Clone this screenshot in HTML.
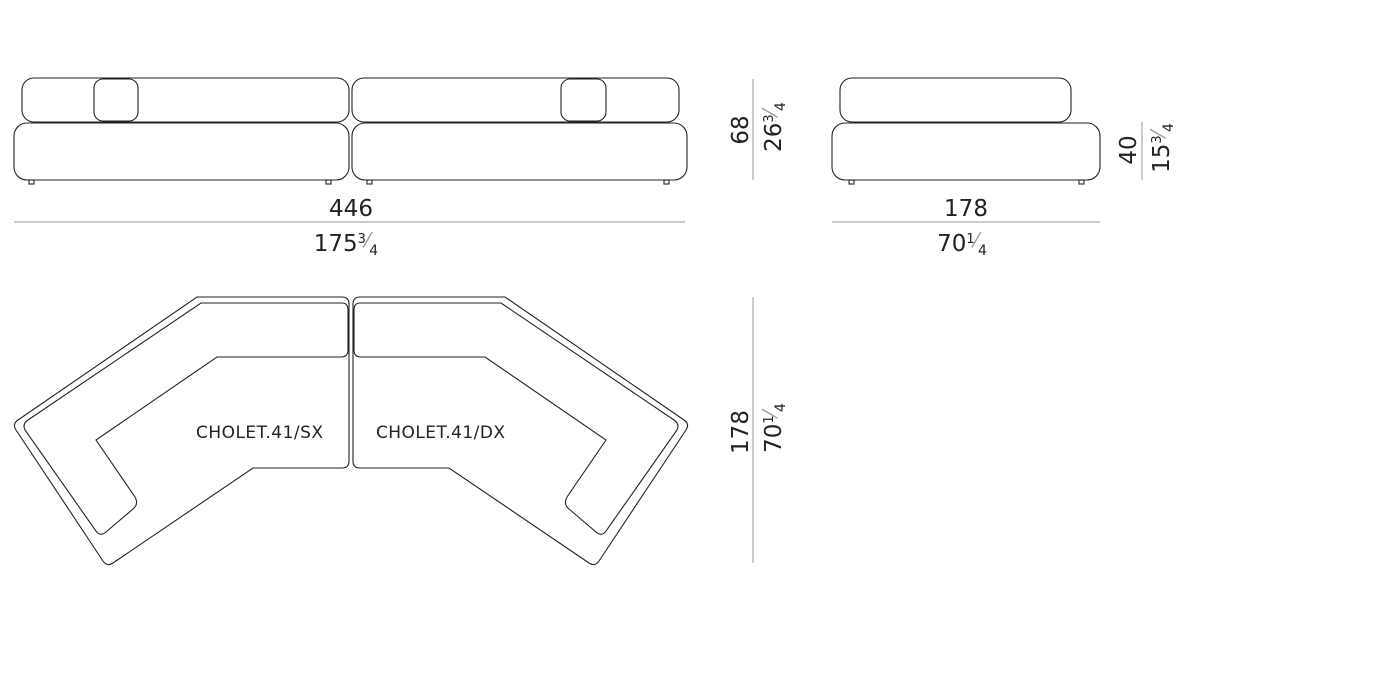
<!DOCTYPE html>
<html><head><meta charset="utf-8"><style>
html,body{margin:0;padding:0;background:#fff;width:1400px;height:678px;overflow:hidden}
svg text{font-family:"DejaVu Sans","Liberation Sans",sans-serif;fill:#222;font-weight:normal}
</style></head><body>
<svg width="1400" height="678" viewBox="0 0 1400 678" xmlns="http://www.w3.org/2000/svg">
<g fill="none" stroke="#222" stroke-width="1.1">
<rect x="22" y="78" width="327" height="44" rx="12"/>
<rect x="352" y="78" width="327" height="44" rx="12"/>
<rect x="94" y="79" width="44" height="42" rx="9"/>
<rect x="561" y="79" width="45" height="42" rx="9"/>
<rect x="14" y="123" width="335" height="57" rx="13"/>
<rect x="352" y="123" width="335" height="57" rx="13"/>
<rect x="29" y="180" width="5" height="4"/>
<rect x="326" y="180" width="5" height="4"/>
<rect x="367" y="180" width="5" height="4"/>
<rect x="664" y="180" width="5" height="4"/>
<rect x="840" y="78" width="231" height="44" rx="12"/>
<rect x="832" y="123" width="268" height="57" rx="13"/>
<rect x="849" y="180" width="5" height="4"/>
<rect x="1079" y="180" width="5" height="4"/>
<g id="L">
<path d="M197,297 L342,297 Q349,297 349,304 L349,461 Q349,468 342,468 L253,468 L113,563 Q107,567 103,561 L16,430 Q12,424 18,420 Z"/>
<path d="M201,303 L342,303 Q348,303 348,310 L348,350 Q348,357 341,357 L217,357 L96,440 L135,497 Q139,504 133,509 L106,532 Q100,537 96,531 L25,430 Q22,424 28,420 Z"/>
</g>
<use href="#L" transform="translate(702,0) scale(-1,1)"/>
</g>
<g stroke="#999" stroke-width="1">
<line x1="14" y1="222" x2="685" y2="222"/>
<line x1="832" y1="222" x2="1100" y2="222"/>
<line x1="753" y1="79" x2="753" y2="180"/>
<line x1="1142" y1="122" x2="1142" y2="180"/>
<line x1="753" y1="297" x2="753" y2="563"/>
</g>
<g font-size="23" text-anchor="middle" font-weight="200">
<text x="351" y="216">446</text>
<text x="346" y="251">175<tspan font-size="13" dy="-8">3</tspan><tspan font-size="20" fill="#999" dy="4">⁄</tspan><tspan font-size="14" dy="8">4</tspan></text>
<text x="966" y="216">178</text>
<text x="962" y="251">70<tspan font-size="13" dy="-8">1</tspan><tspan font-size="20" fill="#999" dy="4">⁄</tspan><tspan font-size="14" dy="8">4</tspan></text>
<text transform="translate(748,130) rotate(-90)">68</text>
<text transform="translate(781,127) rotate(-90)">26<tspan font-size="13" dy="-8">3</tspan><tspan font-size="20" fill="#999" dy="4">⁄</tspan><tspan font-size="14" dy="8">4</tspan></text>
<text transform="translate(1136,150) rotate(-90)">40</text>
<text transform="translate(1169,148) rotate(-90)">15<tspan font-size="13" dy="-8">3</tspan><tspan font-size="20" fill="#999" dy="4">⁄</tspan><tspan font-size="14" dy="8">4</tspan></text>
<text transform="translate(748,432) rotate(-90)">178</text>
<text transform="translate(781,428) rotate(-90)">70<tspan font-size="13" dy="-8">1</tspan><tspan font-size="20" fill="#999" dy="4">⁄</tspan><tspan font-size="14" dy="8">4</tspan></text>
</g>
<g font-size="17">
<text x="196" y="438" textLength="127">CHOLET.41/SX</text>
<text x="376" y="438" textLength="129">CHOLET.41/DX</text>
</g>
</svg>
</body></html>
